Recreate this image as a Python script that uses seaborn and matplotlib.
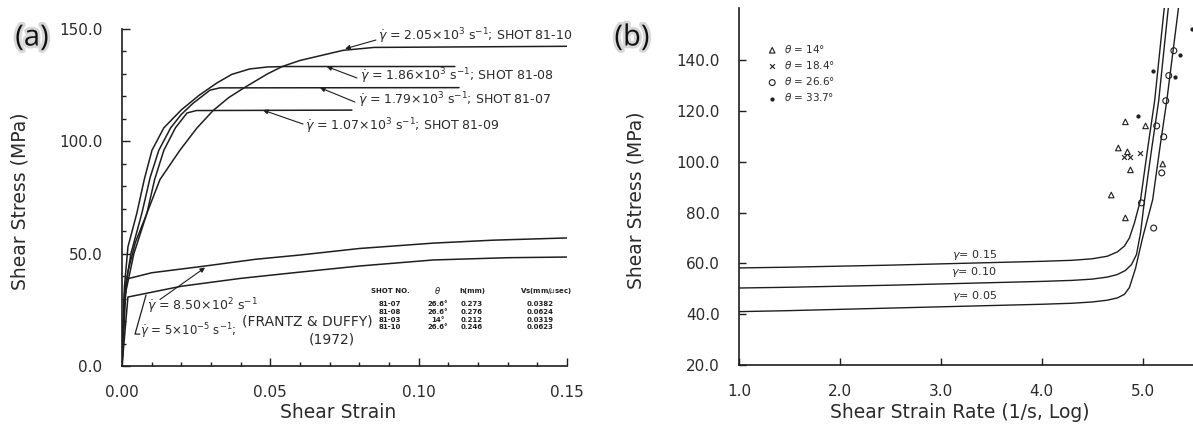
import matplotlib
matplotlib.use("Agg")
import matplotlib.pyplot as plt
import matplotlib.patheffects as pe
from matplotlib.ticker import MultipleLocator, FormatStrFormatter, FixedLocator
import pandas as pd
import seaborn as sns

# ---------------- (a) shear stress vs. shear strain ----------------
strain_8110 = [0, 0.0008, 0.002, 0.0045, 0.0084, 0.0128, 0.0195, 0.0253, 0.0307, 0.036,
               0.041, 0.049, 0.054, 0.060, 0.0745, 0.085, 0.150]
stress_8110 = [0, 28, 42, 55, 68, 83, 96, 106, 113.7, 119.5, 123.7, 130, 133.3, 136,
               140.5, 141.8, 142.3]

strain_8108 = [0, 0.0008, 0.002, 0.005, 0.0075, 0.0101, 0.0141, 0.020, 0.026, 0.032,
               0.037, 0.043, 0.049, 0.055, 0.1122]
stress_8108 = [0, 35, 53, 68, 83, 96, 106, 114, 120.5, 126, 129.8, 132.2, 133.1, 133.3, 133.3]

strain_8107 = [0, 0.0008, 0.003, 0.0067, 0.0095, 0.0124, 0.0164, 0.020, 0.024, 0.0297,
               0.033, 0.1136]
stress_8107 = [0, 32, 50, 68, 84, 96, 106, 112, 117, 122.8, 123.8, 123.9]

strain_8109 = [0, 0.0008, 0.004, 0.0084, 0.011, 0.0141, 0.018, 0.0219, 0.025, 0.0775]
stress_8109 = [0, 30, 50, 68, 83, 96, 106, 112.6, 113.7, 113.9]

strain_850 = [0, 0.0015, 0.010, 0.028, 0.045, 0.060, 0.080, 0.105, 0.125, 0.150]
stress_850 = [0, 38.7, 41.5, 44.5, 47.5, 49.4, 52.3, 54.7, 56.0, 57.0]

strain_5e5 = [0, 0.002, 0.020, 0.040, 0.060, 0.080, 0.105, 0.130, 0.150]
stress_5e5 = [0, 30.7, 35.5, 39.0, 41.8, 44.5, 47.2, 48.2, 48.5]

shot_no = ["81-07", "81-08", "81-03", "81-10"]
shot_theta = ["26.6°", "26.6°", "14°", "26.6°"]
shot_h = ["0.273", "0.276", "0.212", "0.246"]
shot_vs = ["0.0382", "0.0624", "0.0319", "0.0623"]

# ---------------- (b) shear stress vs. log strain rate ----------------
rate_015 = [1.0, 1.5, 2.0, 2.5, 3.0, 3.5, 4.0, 4.3, 4.5, 4.65, 4.75, 4.82, 4.87, 4.92,
            4.98, 5.05, 5.12, 5.21, 5.25]
stress_015 = [58.2, 58.5, 58.9, 59.3, 59.8, 60.3, 60.8, 61.2, 61.8, 62.8, 64.5, 66.8, 70.0,
              76.0, 85.0, 105.0, 124.0, 158.6, 172.0]

rate_010 = [1.0, 1.5, 2.0, 2.5, 3.0, 3.5, 4.0, 4.3, 4.5, 4.65, 4.75, 4.83, 4.89, 4.94,
            4.98, 5.02, 5.09, 5.16, 5.25, 5.29]
stress_010 = [50.3, 50.6, 51.0, 51.4, 51.9, 52.4, 52.9, 53.3, 53.8, 54.6, 55.6, 57.2, 59.5,
              63.5, 72.0, 85.0, 105.0, 124.0, 158.6, 172.0]

rate_005 = [1.0, 1.5, 2.0, 2.5, 3.0, 3.5, 4.0, 4.3, 4.5, 4.65, 4.75, 4.82, 4.87, 4.93,
            5.00, 5.10, 5.17, 5.24, 5.35, 5.39]
stress_005 = [41.0, 41.4, 41.9, 42.4, 42.9, 43.4, 43.9, 44.3, 44.8, 45.5, 46.4, 47.8, 50.5,
              58.0, 70.0, 85.0, 105.0, 124.0, 158.6, 172.0]

theta14_rate = [4.83, 4.76, 4.85, 4.88, 4.69, 4.83, 5.03, 5.20]
theta14_stress = [115.7, 105.4, 103.9, 96.8, 86.9, 77.9, 114.1, 99.1]
theta184_rate = [4.82, 4.88, 4.97]
theta184_stress = [101.9, 101.9, 103.5]
theta266_rate = [5.31, 5.26, 5.23, 5.14, 5.21, 5.19, 5.11, 4.99]
theta266_stress = [143.7, 133.9, 124.0, 114.1, 109.8, 95.6, 73.9, 83.8]
theta337_rate = [5.49, 5.37, 5.32, 5.10, 4.95]
theta337_stress = [152.3, 142.0, 133.4, 135.7, 118.0]

# ---------------- styling ----------------
sns.set_theme(style="ticks")
plt.rcParams["font.family"] = ["DejaVu Sans"]
INK = "#1e1e1e"
TXT = "#2a2a2a"

W, H = 1193, 426
fig = plt.figure(figsize=(W / 100, H / 100), dpi=100)


def axes_px(left, top, right, bottom):
    return fig.add_axes([left / W, 1 - bottom / H, (right - left) / W, (bottom - top) / H])


axa = axes_px(122, 29, 567, 366)
axb = axes_px(739, 8, 1193, 365)

for ax in (axa, axb):
    sns.despine(ax=ax)
    for s in ("left", "bottom"):
        ax.spines[s].set_color(INK)
        ax.spines[s].set_linewidth(1.2)
    ax.tick_params(which="both", direction="in", color=INK, width=1.0,
                   labelsize=11, labelcolor=TXT, pad=14)
    ax.tick_params(which="major", length=6)
    ax.tick_params(which="minor", length=3)
    ax.set_facecolor("white")

# ---- panel (a) ----
curves_a = pd.concat([
    pd.DataFrame({"strain": strain_8110, "stress": stress_8110, "test": "81-10"}),
    pd.DataFrame({"strain": strain_8108, "stress": stress_8108, "test": "81-08"}),
    pd.DataFrame({"strain": strain_8107, "stress": stress_8107, "test": "81-07"}),
    pd.DataFrame({"strain": strain_8109, "stress": stress_8109, "test": "81-09"}),
    pd.DataFrame({"strain": strain_850, "stress": stress_850, "test": "850"}),
    pd.DataFrame({"strain": strain_5e5, "stress": stress_5e5, "test": "5e-5"}),
])
sns.lineplot(data=curves_a, x="strain", y="stress", units="test", estimator=None,
             sort=False, color=INK, linewidth=1.1, ax=axa, legend=False)

axa.set_xlim(0, 0.15)
axa.set_ylim(0, 150)
axa.xaxis.set_major_locator(MultipleLocator(0.05))
axa.xaxis.set_minor_locator(MultipleLocator(0.01))
axa.yaxis.set_major_locator(MultipleLocator(50))
axa.yaxis.set_minor_locator(MultipleLocator(10))
axa.xaxis.set_major_formatter(FormatStrFormatter("%.2f"))
axa.yaxis.set_major_formatter(FormatStrFormatter("%.1f"))
axa.set_xlabel("Shear Strain", fontsize=13.5, color=TXT)
axa.set_ylabel("Shear Stress (MPa)", fontsize=13.5, color=TXT)
axa.xaxis.set_label_coords(0.485, -0.139)
axa.xaxis.label.set_va("center")
axa.yaxis.set_label_coords(-0.229, 0.49)
axa.yaxis.label.set_va("center")

arrow = dict(arrowstyle="-|>", lw=0.8, color=INK, mutation_scale=7, shrinkA=0, shrinkB=0)
ann_fs = 9
gd = r"$\dot{\gamma}$"
notes = [
    (gd + " = 2.05×10$^{3}$ s$^{-1}$; SHOT 81-10", (0.0863, 146.9), (0.0856, 145.1), (0.0752, 141.2)),
    (gd + " = 1.86×10$^{3}$ s$^{-1}$; SHOT 81-08", (0.0802, 129.1), (0.0792, 128.2), (0.069, 133.3)),
    (gd + " = 1.79×10$^{3}$ s$^{-1}$; SHOT 81-07", (0.0795, 118.4), (0.0785, 117.5), (0.0667, 123.9)),
    (gd + " = 1.07×10$^{3}$ s$^{-1}$; SHOT 81-09", (0.0617, 106.8), (0.0610, 107.7), (0.0475, 113.9)),
]
for label, txt_xy, tail, head in notes:
    axa.text(*txt_xy, label, fontsize=ann_fs, color=TXT, ha="left", va="center")
    axa.annotate("", xy=head, xytext=tail, arrowprops=arrow)

axa.text(0.0084, 26.7, gd + " = 8.50×10$^{2}$ s$^{-1}$", fontsize=ann_fs, color=TXT,
         ha="left", va="center")
axa.annotate("", xy=(0.028, 43.8), xytext=(0.0128, 29.6), arrowprops=arrow)
axa.text(0.0061, 15.6, gd + " = 5×10$^{-5}$ s$^{-1}$;", fontsize=8.5, color=TXT,
         ha="left", va="center")
axa.plot([0.0081, 0.0044, 0.0060], [31.6, 14.2, 14.2], color=INK, lw=0.9)
axa.text(0.0405, 19.6, "(FRANTZ & DUFFY)", fontsize=10, color=TXT, ha="left", va="center")
axa.text(0.0708, 11.6, "(1972)", fontsize=10, color=TXT, ha="center", va="center")

# test table
tab_fs = 5
col_x = [0.0903, 0.1065, 0.118, 0.1409]
axa.text(col_x[0], 33.4, "SHOT NO.", fontsize=tab_fs, color=INK, ha="center", va="center",
         fontweight="bold")
axa.text(col_x[1], 33.4, r"$\theta$", fontsize=tab_fs + 1, color=INK, ha="center", va="center")
axa.text(col_x[2], 33.4, "h(mm)", fontsize=tab_fs, color=INK, ha="center", va="center",
         fontweight="bold")
axa.text(0.1429, 33.4, r"Vs(mm/$\mu$sec)", fontsize=tab_fs, color=INK, ha="center",
         va="center", fontweight="bold")
row_y = [27.6, 24.0, 20.5, 17.4]
for i, y in enumerate(row_y):
    for cx, val in zip(col_x, (shot_no[i], shot_theta[i], shot_h[i], shot_vs[i])):
        axa.text(cx, y, val, fontsize=tab_fs, color=INK, ha="center", va="center",
                 fontweight="bold")

# ---- panel (b) ----
curves_b = pd.concat([
    pd.DataFrame({"rate": rate_015, "stress": stress_015, "gamma": "0.15"}),
    pd.DataFrame({"rate": rate_010, "stress": stress_010, "gamma": "0.10"}),
    pd.DataFrame({"rate": rate_005, "stress": stress_005, "gamma": "0.05"}),
])
sns.lineplot(data=curves_b, x="rate", y="stress", units="gamma", estimator=None,
             sort=False, color=INK, linewidth=1.0, ax=axb, legend=False)

groups = [
    (theta14_rate, theta14_stress, "^", r"$\theta$ = 14°", True, 16),
    (theta184_rate, theta184_stress, "x", r"$\theta$ = 18.4°", False, 12),
    (theta266_rate, theta266_stress, "o", r"$\theta$ = 26.6°", True, 18),
    (theta337_rate, theta337_stress, "o", r"$\theta$ = 33.7°", False, 5),
]
for xs, ys, mk, lab, open_mk, sz in groups:
    if open_mk:
        sns.scatterplot(x=xs, y=ys, marker=mk, s=sz, facecolor="none", edgecolor=INK,
                        linewidth=0.8, label=lab, ax=axb, clip_on=False, zorder=3)
    else:
        sns.scatterplot(x=xs, y=ys, marker=mk, s=sz, color=INK, edgecolor=INK,
                        linewidth=0.8, label=lab, ax=axb, clip_on=False, zorder=3)

axb.set_xlim(1.0, 5.5)
axb.set_ylim(20, 160.5)
axb.xaxis.set_major_locator(FixedLocator([1, 2, 3, 4, 5]))
axb.yaxis.set_major_locator(FixedLocator([20, 40, 60, 80, 100, 120, 140]))
axb.xaxis.set_major_formatter(FormatStrFormatter("%.1f"))
axb.yaxis.set_major_formatter(FormatStrFormatter("%.1f"))
axb.tick_params(which="major", length=5)
axb.set_xlabel("Shear Strain Rate (1/s, Log)", fontsize=13.5, color=TXT)
axb.set_ylabel("Shear Stress (MPa)", fontsize=13.5, color=TXT)
axb.xaxis.set_label_coords(0.487, -0.134)
axb.xaxis.label.set_va("center")
axb.yaxis.set_label_coords(-0.227, 0.462)
axb.yaxis.label.set_va("center")

for g, y in (("0.15", 63.3), ("0.10", 56.6), ("0.05", 47.1)):
    axb.text(3.33, y, r"$\gamma$= " + g, fontsize=8, color=TXT, ha="center", va="center")

leg = axb.legend(loc="upper left", bbox_to_anchor=(0.0617, 0.902), frameon=False,
                 fontsize=7.5, handlelength=1.0, handletextpad=0.6, labelspacing=0.4,
                 borderpad=0, borderaxespad=0, labelcolor=TXT)

# panel letters
halo = [pe.withStroke(linewidth=4, foreground="#d8d8d8")]
for x, letter in ((32, "(a)"), (632, "(b)")):
    fig.text(x / W, 1 - 38 / H, letter, fontsize=21, family="Open Sans", color="#111111",
             ha="center", va="center", path_effects=halo)

fig.savefig("out.png", dpi=100, facecolor="white")
